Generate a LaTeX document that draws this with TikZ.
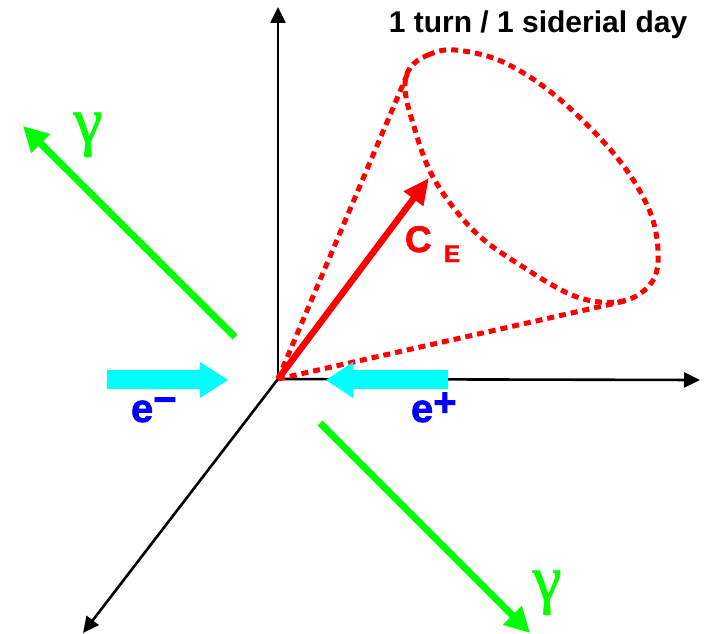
\documentclass[tikz,border=0pt]{standalone}
\usepackage{fontspec}
\setmainfont{Liberation Sans}
\newfontfamily\heavy[FakeBold=1.6]{Liberation Sans Bold}
\newfontfamily\gfont[FakeBold=1.2]{Liberation Serif}
\usetikzlibrary{arrows.meta}
\definecolor{pgreen}{RGB}{0,255,0}
\definecolor{pcyan}{RGB}{0,255,255}
\definecolor{pblue}{RGB}{0,0,255}
\definecolor{pred}{RGB}{255,0,0}
\tikzset{
  axis/.style={line width=2.6pt, -{Triangle[length=16pt,width=15pt]}},
  garrow/.style={pgreen, line width=7pt, -{Triangle[length=25pt,width=25pt]}},
  rarrow/.style={pred, line width=6.5pt, -{Triangle[length=26pt,width=23pt]}},
  cone/.style={pred, line width=5pt, dash pattern=on 7pt off 5pt},
  beam/.style={fill=pcyan, draw=none},
  lbl/.style={inner sep=0pt, outer sep=0pt},
}
\begin{document}
\begin{tikzpicture}[x=1pt,y=-1pt]
\useasboundingbox (0,0) rectangle (705,634);
% axes
\coordinate (O) at (278,379);
\coordinate (top) at (278,7);
\coordinate (right) at (700,380);
\coordinate (bl) at (83,633);
\draw[axis] (O) -- (top);
\draw[axis] (O) -- (right);
\draw[axis] (O) -- (bl);
% cone
\coordinate (c1) at (410,68);
\coordinate (c2) at (625,301);
\draw[cone] (O) -- (c1);
\draw[cone] (O) -- (c2);
\draw[cone] plot[smooth cycle, tension=0.6] coordinates {(410,68) (428,55) (455,50) (503,62) (557,97) (615,155) (648,207) (658,250) (652,282) (623,301) (577,297) (520,265) (473,230) (433,177) (412,120) (405,88)};
% red vector
\coordinate (ce) at (429,178);
\draw[rarrow] (O) -- (ce);
\node[lbl, anchor=base west, text=pred] (cel) at (405,252) {\heavy\fontsize{37}{37}\selectfont C};
\node[lbl, anchor=base west, text=pred] (cesub) at (444,262) {\heavy\fontsize{24}{24}\selectfont E};
% gamma arrows
\coordinate (g1s) at (235,337);
\coordinate (g1e) at (23,126);
\coordinate (g2s) at (320,423);
\coordinate (g2e) at (530,633);
\draw[garrow] (g1s) -- (g1e);
\draw[garrow] (g2s) -- (g2e);
\node[lbl, anchor=base, text=pgreen] (gam1) at (88,143) {\gfont\fontsize{66}{66}\selectfont γ};
\node[lbl, anchor=base, text=pgreen] (gam2) at (547,601) {\gfont\fontsize{66}{66}\selectfont γ};
% beams
\fill[beam] (107,370) -- (200,370) -- (200,362) -- (228,380) -- (200,398) -- (200,389) -- (107,389) -- cycle;
\fill[beam] (448,370) -- (353,370) -- (353,362) -- (326,380) -- (353,398) -- (353,389) -- (448,389) -- cycle;
\node[lbl, anchor=base west, text=pblue] (em) at (131,422) {\heavy\fontsize{40}{40}\selectfont e\raisebox{9pt}{−}};
\node[lbl, anchor=base west, text=pblue] (ep) at (411,422) {\heavy\fontsize{40}{40}\selectfont e\raisebox{6pt}{+}};
% title
\node[lbl, anchor=base] (title) at (538,33) {\fontsize{30}{30}\selectfont\bfseries 1 turn / 1 siderial day};
\end{tikzpicture}
\end{document}
